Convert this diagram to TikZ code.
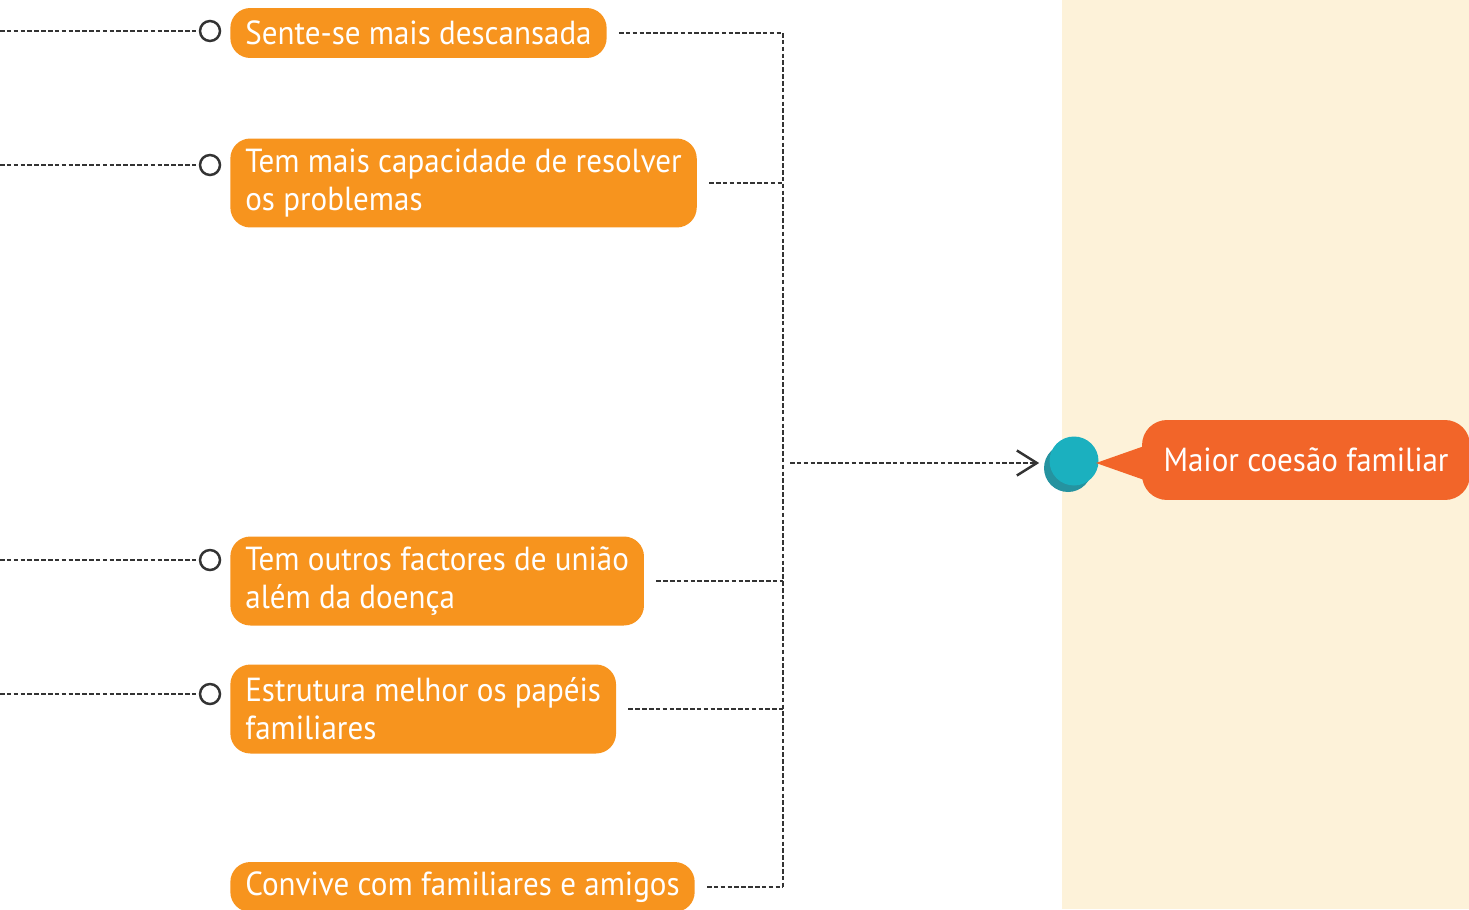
\documentclass[tikz,border=0pt]{standalone}
\usepackage{fontspec}
\setmainfont[FakeStretch=0.93]{PT Sans}
\usetikzlibrary{arrows.meta,calc}
\definecolor{boxorange}{HTML}{F7941E}
\definecolor{calloutred}{HTML}{F26529}
\definecolor{creambg}{HTML}{FDF2D9}
\definecolor{dotteal}{HTML}{1BB0BF}
\definecolor{dotshade}{HTML}{2593A0}
\definecolor{linegray}{HTML}{333333}
\tikzset{
  x=0.02cm, y=-0.02cm,
  box_o/.style = {rounded corners=0.4cm, fill=boxorange, text=white, align=left,
                  anchor=west, inner xsep=0.3cm, inner ysep=0pt,
                  font=\fontsize{19}{21.5}\selectfont},
  box_one/.style = {box_o, minimum height=1cm},
  box_two/.style = {box_o, minimum height=1.78cm},
  pin_c/.style = {circle, draw=linegray, line width=1.4pt, fill=white, minimum size=0.4cm, inner sep=0pt},
  dot_line/.style = {draw=linegray, line width=1.3pt, dash pattern=on 2.6pt off 1.3pt}
}

\begin{document}
\begin{tikzpicture}
\useasboundingbox (0,0) rectangle (1469,909);
\fill[creambg] (1062,0) rectangle (1469,909);

% caixas da esquerda
\node [box_one] (b1) at (230,33)  {Sente-se mais descansada};
\node [box_two] (b2) at (230,183) {Tem mais capacidade de resolver\\os problemas};
\node [box_two] (b3) at (230,581) {Tem outros factores de união\\além da doença};
\node [box_two] (b4) at (230,709) {Estrutura melhor os papéis\\familiares};
\node [box_one] (b5) at (230,887) {Convive com familiares e amigos};

% pinos e linhas que entram pela esquerda
\foreach \i/\y in {1/31, 2/165, 3/560, 4/694}{
  \node [pin_c] (p\i) at (210,\y) {};
  \coordinate (l\i) at (0,\y);
  \draw [dot_line] (l\i) -- (p\i);
}

% barramento
\coordinate (bus) at (783,0);
\coordinate (hub) at (783,463);
\foreach \i in {1,...,5}
  \draw [dot_line] ([xshift=0.24cm]b\i.east) -- (bus |- b\i.east);
\draw [dot_line] (bus |- b1.east) -- (bus |- b5.east);

% ponto e resultado
\fill [dotshade] (1068,468) circle (0.48cm);
\node [circle, fill=dotteal, minimum size=0.98cm, inner sep=0pt] (dot) at (1074,461) {};
\draw [dot_line, -{Straight Barb[length=0.4cm, width=0.5cm, line width=1.4pt]}, shorten <=0.14cm, shorten >=0.2cm]
  (hub) -- (hub -| dot.west);
\fill [calloutred] (1096,463) -- (1150,444) -- (1150,482) -- cycle;
\node [rounded corners=0.5cm, fill=calloutred, text=white,
       minimum height=1.6cm, minimum width=6.56cm, inner xsep=0.3cm,
       font=\fontsize{19}{21.5}\selectfont] (res) at (1306,460) {Maior coesão familiar};
\end{tikzpicture}
\end{document}
